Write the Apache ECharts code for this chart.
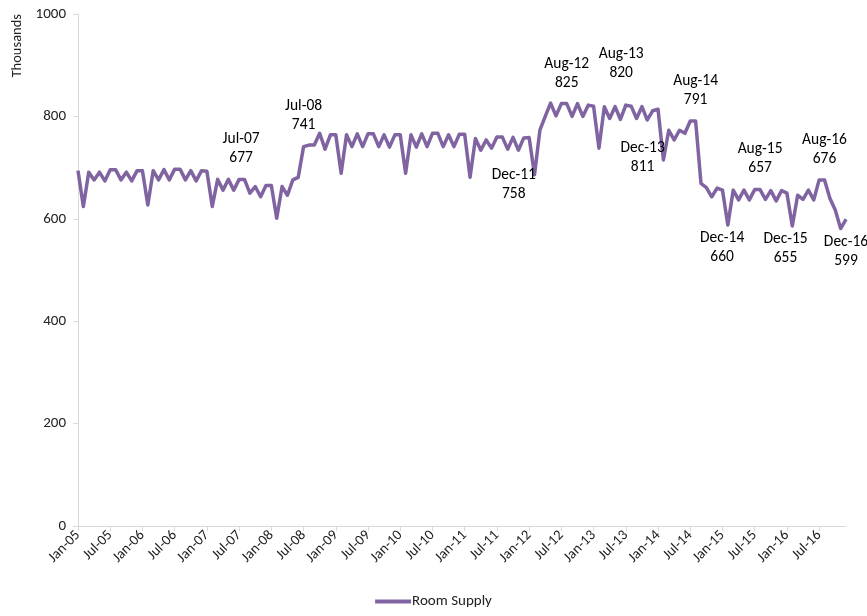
<!DOCTYPE html>
<html>
<head>
<meta charset="utf-8">
<script src="https://cdn.jsdelivr.net/npm/echarts@6/dist/echarts.min.js"></script>
<style>html,body{margin:0;padding:0;background:#fff}#c{width:867px;height:616px}</style>
</head>
<body>
<div id="c"></div>
<script>
const monthNames = ['Jan','Feb','Mar','Apr','May','Jun','Jul','Aug','Sep','Oct','Nov','Dec'];
const years = ['05','06','07','08','09','10','11','12','13','14','15','16'];
const categories = [];
years.forEach(y => monthNames.forEach(m => categories.push(m + '-' + y)));

const supply2005 = [694, 624, 691, 676, 691, 674, 696, 696, 676, 691, 674, 694];
const supply2006 = [694, 627, 694, 676, 696, 676, 697, 697, 676, 694, 674, 694];
const supply2007 = [693, 624, 677, 656, 677, 656, 677, 677, 650, 663, 643, 665];
const supply2008 = [665, 601, 663, 646, 676, 681, 741, 744, 744, 767, 736, 764];
const supply2009 = [764, 689, 764, 741, 766, 741, 766, 766, 741, 764, 740, 764];
const supply2010 = [764, 689, 764, 740, 766, 741, 767, 767, 741, 764, 741, 765];
const supply2011 = [765, 681, 757, 734, 754, 738, 760, 760, 736, 759, 734, 758];
const supply2012 = [759, 686, 773, 800, 826, 801, 825, 825, 800, 825, 800, 822];
const supply2013 = [820, 738, 819, 796, 819, 794, 822, 820, 796, 819, 793, 811];
const supply2014 = [814, 715, 773, 754, 773, 767, 791, 791, 669, 661, 643, 660];
const supply2015 = [656, 588, 656, 637, 656, 637, 657, 657, 638, 655, 635, 655];
const supply2016 = [650, 586, 646, 638, 656, 637, 676, 676, 640, 617, 581, 599];
const roomSupply = [].concat(supply2005, supply2006, supply2007, supply2008, supply2009, supply2010,
  supply2011, supply2012, supply2013, supply2014, supply2015, supply2016);

const labelledMonths = ['Jul-07','Jul-08','Dec-11','Aug-12','Aug-13','Dec-13','Aug-14','Dec-14','Aug-15','Dec-15','Aug-16','Dec-16'];
const yTicks = [0, 200, 400, 600, 800, 1000];

// label placement (style only): side, distance, x offset
const labelPlacement = {
  'Jul-07': ['top', 11, 2],
  'Jul-08': ['top', 11, 0],
  'Dec-11': ['bottom', 27, -10],
  'Aug-12': ['top', 10, 0],
  'Aug-13': ['top', 23, -10],
  'Dec-13': ['bottom', 27, -10],
  'Aug-14': ['top', 11, 0],
  'Dec-14': ['bottom', 40, 5],
  'Aug-15': ['top', 11, 0],
  'Dec-15': ['bottom', 38, 4],
  'Aug-16': ['top', 11, 0],
  'Dec-16': ['bottom', 13, 0]
};

const FONT = 'Carlito, Lato, "Open Sans", sans-serif';

const seriesData = roomSupply.map((v, i) => {
  const name = categories[i];
  if (labelledMonths.indexOf(name) >= 0) {
    const p = labelPlacement[name];
    const isTop = p[0] === 'top';
    return {
      value: v,
      label: {
        show: true,
        position: [p[2] + 0.5, isTop ? -p[1] : 1 + p[1]],
        align: 'center',
        verticalAlign: isTop ? 'bottom' : 'top',
        formatter: '{b}\n{c}',
        fontFamily: FONT,
        fontSize: 15.5,
        lineHeight: 19,
        color: '#000'
      }
    };
  }
  return v;
});

const chart = echarts.init(document.getElementById('c'));
chart.setOption({
  animation: false,
  backgroundColor: '#fff',
  grid: { left: 78, right: 21, top: 14, bottom: 90, containLabel: false },
  xAxis: {
    type: 'category',
    data: categories,
    boundaryGap: false,
    axisLine: { lineStyle: { color: '#d9d9d9', width: 1 } },
    axisTick: { show: true, interval: 5, length: 5, lineStyle: { color: '#d9d9d9' } },
    axisLabel: { interval: 5, rotate: 45, margin: 7, fontFamily: FONT, fontSize: 14.5, color: '#222' },
    splitLine: { show: false }
  },
  yAxis: {
    type: 'value',
    min: yTicks[0],
    max: yTicks[yTicks.length - 1],
    interval: 200,
    axisLine: { show: true, lineStyle: { color: '#d9d9d9', width: 1 } },
    axisTick: { show: true, length: 5, lineStyle: { color: '#d9d9d9' } },
    axisLabel: { margin: 12, fontFamily: FONT, fontSize: 15, color: '#222', formatter: v => String(v) },
    splitLine: { show: false }
  },
  legend: {
    bottom: 2,
    left: 'center',
    icon: 'rect',
    itemWidth: 36,
    itemHeight: 4,
    itemGap: 10,
    textStyle: { fontFamily: FONT, fontSize: 15, color: '#222', padding: [0, 0, 0, -4] },
    data: ['Room Supply']
  },
  graphic: [{
    type: 'text',
    x: 10,
    y: 14,
    rotation: Math.PI / 2,
    style: {
      text: 'Thousands',
      font: '14.5px ' + FONT,
      fill: '#222',
      align: 'right',
      verticalAlign: 'top'
    }
  }],
  series: [{
    name: 'Room Supply',
    type: 'line',
    data: seriesData,
    showSymbol: true,
    symbol: 'circle',
    symbolSize: 1,
    lineStyle: { color: '#8064a2', width: 3.5, join: 'round' },
    itemStyle: { color: '#8064a2' },
    labelLayout: { hideOverlap: false }
  }]
});
</script>
</body>
</html>
